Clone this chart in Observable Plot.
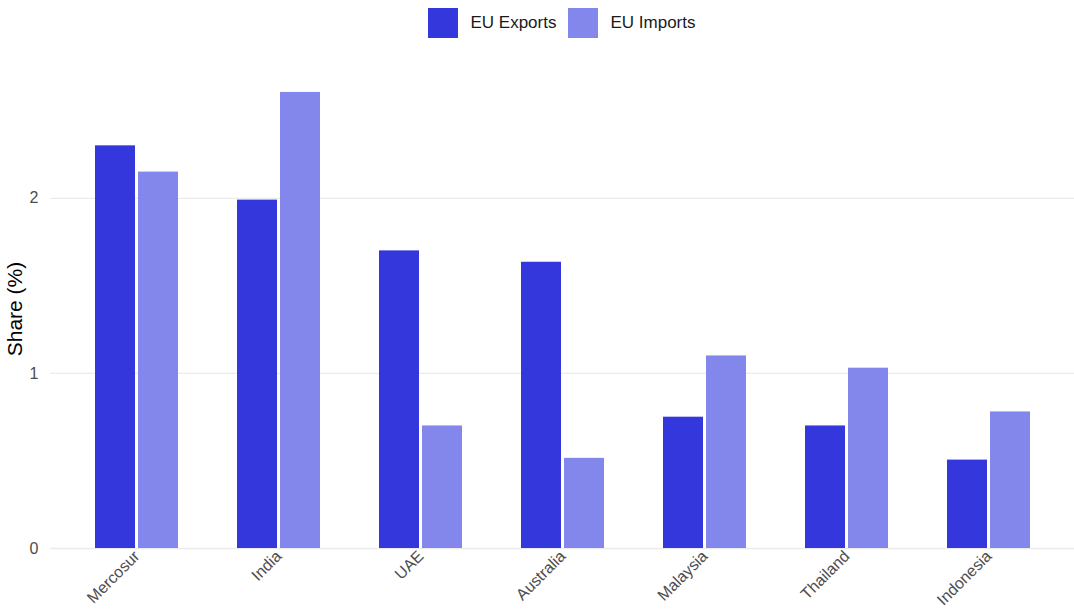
<!DOCTYPE html>
<html><head><meta charset="utf-8">
<script src="https://cdn.jsdelivr.net/npm/d3@7"></script>
<script src="https://cdn.jsdelivr.net/npm/@observablehq/plot@0.6"></script>
<style>
body{margin:0;background:#fff;font-family:"Liberation Sans",Arial,sans-serif;overflow:hidden;}
#legend{height:45px;margin-left:50px;width:1024px;display:flex;justify-content:center;align-items:center;font-size:17px;color:#1a1a1a;}
.item{display:flex;align-items:center;margin:0 6px;}
.sw{width:30px;height:30px;margin-right:12px;}
svg{display:block;}
</style></head><body>
<div id="legend"></div><div id="chart"></div>
<script>
const countries = ["Mercosur","India","UAE","Australia","Malaysia","Thailand","Indonesia"];
const series = ["EU Exports","EU Imports"];
const exportsShare = [2.30, 1.99, 1.70, 1.635, 0.75, 0.70, 0.505];
const importsShare = [2.15, 2.605, 0.70, 0.515, 1.10, 1.03, 0.78];
const colors = ["#3438dc","#8387eb"];
const yTicks = [0,1,2];

const data = countries.flatMap((c,i)=>[
  {country:c, series:series[0], value:exportsShare[i]},
  {country:c, series:series[1], value:importsShare[i]}
]);

const leg = document.getElementById("legend");
series.forEach((s,i)=>{
  const it = document.createElement("div"); it.className="item";
  const sw = document.createElement("div"); sw.className="sw"; sw.style.background=colors[i];
  const t = document.createElement("span"); t.textContent=s;
  it.appendChild(sw); it.appendChild(t); leg.appendChild(it);
});

const half = 43;
const plot = Plot.plot({
  width:1074, height:571, marginLeft:50, marginRight:0, marginTop:24, marginBottom:68,
  style:{fontFamily:'"Liberation Sans",Arial,sans-serif', fontSize:"16px", background:"#fff"},
  x:{domain:countries, paddingInner:0.417, paddingOuter:0.309, label:null},
  y:{domain:[0,2.736], label:null},
  color:{domain:series, range:colors},
  marks:[
    Plot.gridY(yTicks,{stroke:"#ebebeb", strokeOpacity:1, strokeWidth:1.3}),
    Plot.barY(data.filter(d=>d.series===series[0]),{x:"country", y:"value", fill:"series", insetRight:half}),
    Plot.barY(data.filter(d=>d.series===series[1]),{x:"country", y:"value", fill:"series", insetLeft:half}),
    Plot.axisY(yTicks,{tickSize:0, tickPadding:12, fill:"#4d4d4d", label:null, tickFormat:d=>String(d)}),
    Plot.axisX({tickRotate:-45, tickSize:0, tickPadding:5, fill:"#4d4d4d", label:null}),
    Plot.text(["Share (%)"],{frameAnchor:"left", textAnchor:"middle", rotate:-90, dx:-35, fontSize:21, fill:"#000"})
  ]
});
document.getElementById("chart").appendChild(plot);
</script>
</body></html>
